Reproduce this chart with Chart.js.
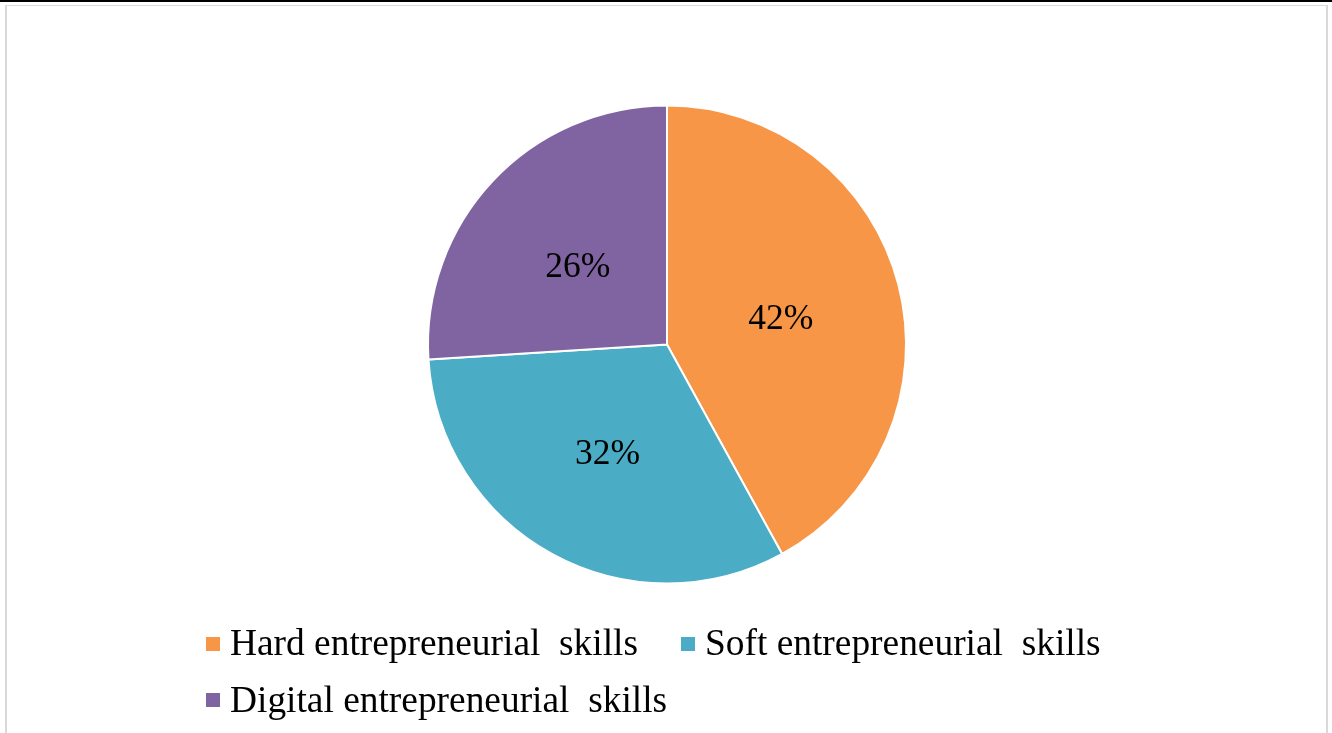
<!DOCTYPE html>
<html>
<head>
<meta charset="utf-8">
<script src="https://cdn.jsdelivr.net/npm/chart.js@4/dist/chart.umd.min.js"></script>
<style>
  html, body { margin: 0; padding: 0; background: #fff; }
  body { width: 1332px; height: 733px; position: relative; overflow: hidden; }
  #topbar { position: absolute; left: 0; top: 0; width: 1332px; height: 2px; background: #000; }
  #frame { position: absolute; left: 5px; top: 5px; width: 1319px; height: 740px;
           border: 2px solid #d9d9d9; border-bottom: none; border-top-width: 1px; }
  #c { position: absolute; left: 0; top: 0; }
  .leg { position: absolute; font-family: "Liberation Serif", "Times New Roman", serif;
         font-size: 37.4px; line-height: 36px; color: #000; white-space: pre; }
  .mark { position: absolute; width: 14px; height: 14px; }
</style>
</head>
<body>
<div id="topbar"></div>
<div id="frame"></div>
<canvas id="c" width="1332" height="733"></canvas>
<div id="legend"></div>
<script>
const categories = ["Hard entrepreneurial  skills", "Soft entrepreneurial  skills", "Digital entrepreneurial  skills"];
const values = [42, 32, 26];
const colors = ["#F79646", "#4BACC6", "#8064A2"];
const valueLabels = ["42%", "32%", "26%"];

const pctLabels = {
  id: 'pctLabels',
  afterDatasetsDraw(chart) {
    const ctx = chart.ctx;
    const meta = chart.getDatasetMeta(0);
    ctx.save();
    ctx.font = '35.5px "Liberation Serif", "Times New Roman", serif';
    ctx.fillStyle = '#000';
    ctx.textAlign = 'center';
    ctx.textBaseline = 'middle';
    meta.data.forEach((arc, i) => {
      const p = arc.tooltipPosition();
      ctx.fillText(valueLabels[i], p.x - 2, p.y + 5);
    });
    ctx.restore();
  }
};

new Chart(document.getElementById('c'), {
  type: 'pie',
  data: {
    labels: categories,
    datasets: [{
      data: values,
      backgroundColor: colors,
      borderColor: '#ffffff',
      borderWidth: 2
    }]
  },
  options: {
    responsive: false,
    devicePixelRatio: 1,
    animation: false,
    layout: { padding: { left: 427, right: 425, top: 104, bottom: 148 } },
    plugins: { legend: { display: false }, tooltip: { enabled: false } }
  },
  plugins: [pctLabels]
});

// HTML legend, rows laid out as in the reference
const legendPos = [
  { mx: 206, my: 637, tx: 230, ty: 625 },
  { mx: 681, my: 637, tx: 705, ty: 625 },
  { mx: 206, my: 693, tx: 230, ty: 682 }
];
const legend = document.getElementById('legend');
categories.forEach((name, i) => {
  const p = legendPos[i];
  const m = document.createElement('div');
  m.className = 'mark';
  m.style.left = p.mx + 'px';
  m.style.top = p.my + 'px';
  m.style.background = colors[i];
  legend.appendChild(m);
  const t = document.createElement('div');
  t.className = 'leg';
  t.style.left = p.tx + 'px';
  t.style.top = p.ty + 'px';
  t.textContent = name;
  legend.appendChild(t);
});
</script>
</body>
</html>
